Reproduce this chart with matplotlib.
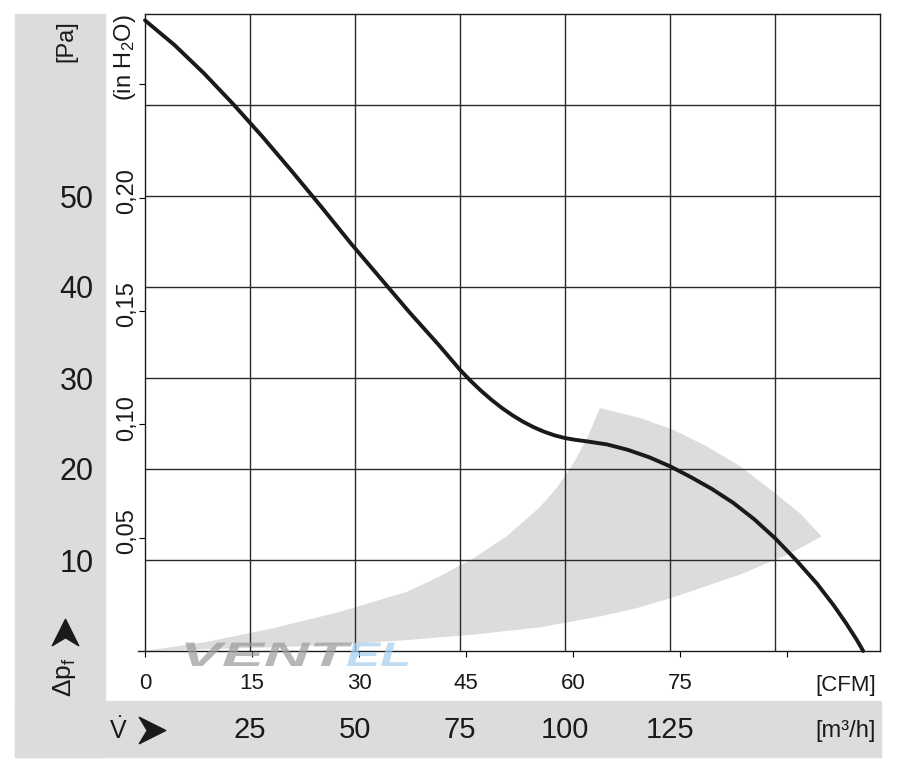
import matplotlib
matplotlib.use("Agg")
import matplotlib.pyplot as plt
from matplotlib.patches import Rectangle, PathPatch
from matplotlib.lines import Line2D
from matplotlib.path import Path
from matplotlib.textpath import TextPath
from matplotlib.font_manager import FontProperties
from matplotlib.transforms import Affine2D, ScaledTranslation, blended_transform_factory

plt.rcParams['font.family'] = ['Liberation Sans', 'DejaVu Sans']
plt.rcParams['mathtext.fontset'] = 'custom'
plt.rcParams['mathtext.rm'] = 'Liberation Sans'
plt.rcParams['mathtext.it'] = 'Liberation Sans:italic'

# Kennlinie: Volumenstrom [m³/h] gegen Druck [Pa]
flow_m3h = [0, 7, 14, 21, 28, 35, 42, 49, 56, 63, 70, 72.5, 75, 77.5, 80, 82.5, 85,
            87.5, 90, 92.5, 95, 97.5, 100, 102.5, 105, 110, 115, 120, 125, 130, 135,
            140, 145, 150, 155, 160, 164, 167, 169.5, 171]
pressure_pa = [69.3, 66.6, 63.5, 60.1, 56.5, 52.7, 48.8, 44.8, 41.0, 37.2, 33.6, 32.25,
               30.9, 29.7, 28.6, 27.6, 26.7, 25.9, 25.2, 24.6, 24.1, 23.7, 23.4, 23.2,
               23.05, 22.7, 22.1, 21.3, 20.3, 19.1, 17.8, 16.3, 14.5, 12.4, 10.0, 7.4,
               5.0, 3.0, 1.2, 0.0]

# Arbeitsbereich (graue Flaeche): obere Kante, Bogen, untere Kante
band_flow = [0.0, 14.7, 30.5, 46.4, 62.3, 70.2, 78.2, 86.1, 94.0, 98.0, 102.0, 105.5, 108.3,
             117.9, 125.8, 133.7, 141.7, 149.6, 156.0, 161.1,
             153.6, 141.7, 125.8, 117.0, 108.3, 94.0, 78.2, 62.3, 46.4, 30.5, 14.7]
band_pa = [0.0, 1.0, 2.5, 4.3, 6.5, 8.2, 10.2, 12.6, 15.8, 17.9, 20.6, 23.6, 26.7,
           25.6, 24.3, 22.5, 20.3, 17.5, 15.1, 12.6,
           10.7, 8.4, 5.9, 4.7, 3.8, 2.6, 1.8, 1.2, 0.7, 0.4, 0.2]

m3h_ticks = [25, 50, 75, 100, 125, 150]
m3h_labels = ['25', '50', '75', '100', '125', '']
pa_ticks = [10, 20, 30, 40, 50, 60]
pa_labels = ['10', '20', '30', '40', '50', '']
cfm_ticks = [0, 15, 30, 45, 60, 75, 90]
cfm_labels = ['0', '15', '30', '45', '60', '75', '']
inh2o_ticks = [0.05, 0.10, 0.15, 0.20, 0.25]
inh2o_labels = ['0,05', '0,10', '0,15', '0,20']

W, H = 907, 784
INK = '#1a1a1a'


def fx(px):
    return px / W


def fy(py):
    return 1 - py / H


fig = plt.figure(figsize=(W / 100, H / 100), dpi=100)
gray = '#dddcdd'

# graues L im Hintergrund
fig.patches.append(Rectangle((fx(15), fy(757)), fx(105) - fx(15), fy(14) - fy(757),
                             transform=fig.transFigure, color=gray, zorder=-1))
fig.patches.append(Rectangle((fx(15), fy(757)), fx(881) - fx(15), fy(701) - fy(757),
                             transform=fig.transFigure, color=gray, zorder=-1))

ax = fig.add_axes([fx(145), fy(651), fx(880) - fx(145), fy(14) - fy(651)])
ax.set_xlim(0, 175)
ax.set_ylim(0, 70)

ax.fill(band_flow, band_pa, color='#dcdcdd', lw=0, zorder=1)
ax.plot(flow_m3h, pressure_pa, color=INK, lw=2.8, solid_capstyle='round',
        solid_joinstyle='round', zorder=3, clip_on=False)

ax.set_xticks(m3h_ticks, m3h_labels)
ax.set_yticks(pa_ticks, pa_labels)
ax.grid(True, color='#2a2a2a', lw=1.0)
ax.tick_params(axis='x', length=0, pad=47, labelsize=21, labelcolor=INK)
ax.tick_params(axis='y', length=0, pad=37, labelsize=22, labelcolor=INK)
for s in ax.spines.values():
    s.set_color(INK)
    s.set_linewidth(1.0)
ax.spines['bottom'].set_bounds(-1.7, 175)

# CFM Skala
secx = ax.secondary_xaxis('bottom', functions=(lambda q: q / 1.699, lambda c: c * 1.699))
secx.set_xticks(cfm_ticks, cfm_labels)
secx.tick_params(direction='out', length=4.5, width=0.8, pad=11, labelsize=16,
                 labelcolor=INK)
secx.spines['bottom'].set_visible(False)

# in H2O Skala (Striche), Beschriftung gedreht daneben
secy = ax.secondary_yaxis('left', functions=(lambda p: p / 249.089, lambda i: i * 249.089))
secy.set_yticks(inh2o_ticks, [''] * len(inh2o_ticks))
secy.tick_params(direction='out', length=4.5, width=0.8)
secy.spines['left'].set_visible(False)
lab_tr = blended_transform_factory(ax.transAxes, ax.transData) + \
    ScaledTranslation(0, 0.066, fig.dpi_scale_trans)
for val, lab in zip(inh2o_ticks, inh2o_labels):
    ax.text(-0.0245, val * 249.089, lab, transform=lab_tr, rotation=90, ha='center',
            va='center', fontsize=17, color=INK)

# Beschriftungen
fig.text(fx(66), fy(41), '[Pa]', rotation=90, ha='center', va='center', fontsize=17,
         color=INK)
fig.text(fx(125), fy(58), r'(in H$\mathregular{_2}$O)', rotation=90, ha='center',
         va='center', fontsize=17, color=INK)
fig.text(fx(65), fy(677), r'Δp$\mathregular{_f}$', rotation=90, ha='center',
         va='center', fontsize=19, color=INK)
fig.text(fx(109), fy(731), r'$\mathregular{\dot{V}}$', ha='left', va='center',
         fontsize=18, color=INK)
fig.text(fx(876), fy(685), '[CFM]', ha='right', va='center', fontsize=16, color=INK)
fig.text(fx(876), fy(731), '[m³/h]', ha='right', va='center', fontsize=17, color=INK)

# Pfeilspitzen
arrow_right = Path([(-1, 1), (1, 0), (-1, -1), (-0.4, 0), (-1, 1)], closed=True)
arrow_up = Path([(1, -1), (0, 1), (-1, -1), (0, -0.4), (1, -1)], closed=True)
fig.add_artist(Line2D([fx(152)], [fy(730)], transform=fig.transFigure, marker=arrow_right,
                      markersize=19, color=INK, linestyle='none'))
fig.add_artist(Line2D([fx(65)], [fy(632)], transform=fig.transFigure, marker=arrow_up,
                      markersize=19, color=INK, linestyle='none'))

# Wasserzeichen
fp = FontProperties(family='Liberation Sans', weight='bold', style='italic')
for word, x0, sx, col in [('VENT', 180, 1.85, '#9c9c9c'), ('EL', 346, 1.5, '#a5cff0')]:
    tp = TextPath((0, 0), word, size=34, prop=fp)
    fig.add_artist(PathPatch(tp, transform=Affine2D().scale(sx, 1.0).translate(x0, H - 666),
                             fc=col, ec='none', alpha=0.72, zorder=5))

fig.savefig('out.png', dpi=100)
